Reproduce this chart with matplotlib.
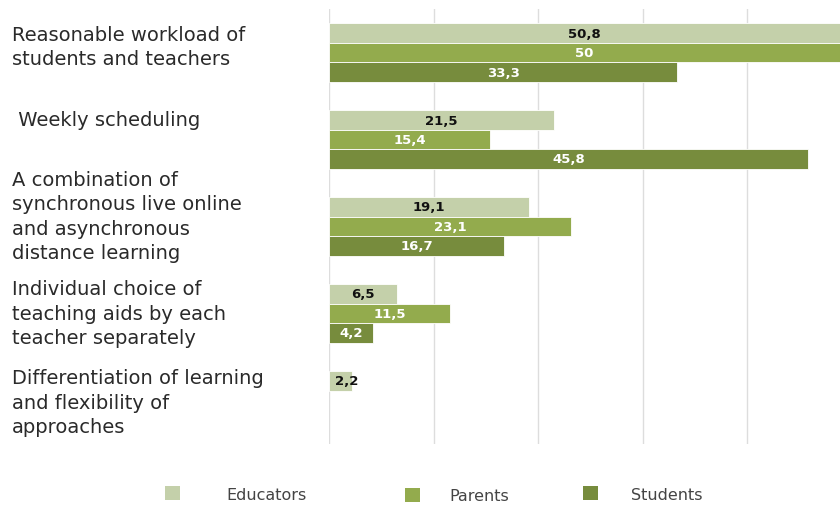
import numpy as np
import matplotlib.pyplot as plt
from matplotlib.patches import Patch
from matplotlib.transforms import blended_transform_factory

plt.rcParams['font.family'] = ['DejaVu Sans']

categories = ['Reasonable workload of\nstudents and teachers',
              ' Weekly scheduling',
              'A combination of\nsynchronous live online\nand asynchronous\ndistance learning',
              'Individual choice of\nteaching aids by each\nteacher separately',
              'Differentiation of learning\nand flexibility of\napproaches']
series = ['Educators', 'Parents', 'Students']
educators = [50.8, 21.5, 19.1, 6.5, 2.2]
parents = [50, 15.4, 23.1, 11.5, None]
students = [33.3, 45.8, 16.7, 4.2, None]

colors = ['#C4D0AA', '#93AB4D', '#778C3D']
text_colors = ['#111111', 'white', 'white']
# vertical nudge of category labels (in category units, negative = up)
label_shift = [-0.07, -0.23, -0.12, 0.0, 0.02]
# legend entry positions (figure x of each square), vertical offsets, text gaps
legend_x = [0.1935, 0.479, 0.691]
legend_y = [0.0, -0.003, 0.0]
legend_pad = [2.85, 1.8, 2.05]

fig = plt.figure(figsize=(8.4, 5.06), dpi=100)
ax = fig.add_axes([0.392, 0.121, 0.608, 0.859])

y = np.arange(len(categories))
h = 0.224
for k, (name, vals) in enumerate(zip(series, [educators, parents, students])):
    for i, v in enumerate(vals):
        if v is None:
            continue
        yy = y[i] + (k - 1) * h
        ax.barh(yy, v, height=h, color=colors[k], edgecolor='white', linewidth=0.6, zorder=2)
        xc = min(v, 48.85) / 2
        if v < 3:
            xc = v / 2 + 0.6
        ax.text(xc, yy, str(v).replace('.', ','), ha='center', va='center',
                color=text_colors[k], fontsize=9.5, fontweight='bold', zorder=3)

ax.set_xlim(0, 48.85)
ax.set_ylim(4.5, -0.5)
ax.set_xticks([0, 10, 20, 30, 40])
ax.xaxis.grid(True, color='#DDDDDD', linewidth=1, zorder=0)
ax.tick_params(left=False, bottom=False, labelbottom=False, labelleft=False)
for s in ax.spines.values():
    s.set_visible(False)

tr = blended_transform_factory(fig.transFigure, ax.transData)
for i, lab in enumerate(categories):
    ax.text(12 / 840, y[i] + label_shift[i], lab, transform=tr,
            ha='left', va='center', fontsize=14, color='#2a2a2a', linespacing=1.36)

for k, name in enumerate(series):
    leg = fig.legend([Patch(facecolor=colors[k], edgecolor='none')], [name],
                     loc='lower left', bbox_to_anchor=(legend_x[k] - 0.012, -0.019 + legend_y[k]),
                     frameon=False, fontsize=11.5, handlelength=0.95, handleheight=0.95,
                     handletextpad=legend_pad[k], borderpad=0.3)
    for t in leg.get_texts():
        t.set_color('#444444')

plt.savefig('out.png', dpi=100)
